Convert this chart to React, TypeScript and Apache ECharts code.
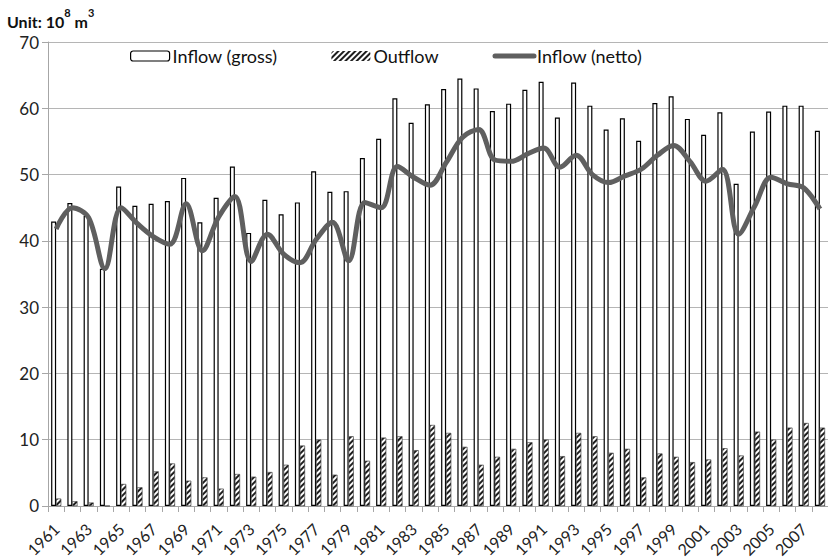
import React, { useEffect, useRef } from "react";
import * as echarts from "echarts";

const years = [
  "1961", "1962", "1963", "1964", "1965", "1966", "1967", "1968", "1969", "1970",
  "1971", "1972", "1973", "1974", "1975", "1976", "1977", "1978", "1979", "1980",
  "1981", "1982", "1983", "1984", "1985", "1986", "1987", "1988", "1989", "1990",
  "1991", "1992", "1993", "1994", "1995", "1996", "1997", "1998", "1999", "2000",
  "2001", "2002", "2003", "2004", "2005", "2006", "2007", "2008",
];

const inflowGross = [
  42.9, 45.7, 43.8, 35.8, 48.2, 45.3, 45.6, 46.0, 49.5, 42.8,
  46.5, 51.2, 41.2, 46.2, 44.0, 45.8, 50.5, 47.4, 47.5, 52.5,
  55.4, 61.5, 57.8, 60.6, 62.9, 64.5, 63.0, 59.6, 60.7, 62.8,
  64.0, 58.6, 63.9, 60.4, 56.8, 58.5, 55.1, 60.8, 61.8, 58.4,
  56.0, 59.4, 48.6, 56.5, 59.5, 60.4, 60.4, 56.6,
];

const outflow = [
  1.1, 0.7, 0.5, 0, 3.3, 2.8, 5.2, 6.4, 3.8, 4.3,
  2.6, 4.8, 4.4, 5.1, 6.2, 9.1, 10.0, 4.7, 10.5, 6.8,
  10.3, 10.5, 8.4, 12.2, 11.0, 8.9, 6.2, 7.4, 8.6, 9.6,
  10.0, 7.5, 11.0, 10.5, 8.0, 8.6, 4.3, 7.9, 7.4, 6.6,
  7.0, 8.7, 7.6, 11.2, 10.0, 11.8, 12.5, 11.8,
];

const inflowNetto = [
  41.8, 45.0, 43.5, 35.8, 45.0, 42.6, 40.6, 39.5, 45.6, 38.5,
  43.6, 46.7, 36.9, 41.0, 38.0, 36.7, 40.2, 42.8, 37.0, 45.8,
  45.0, 51.2, 49.6, 48.4, 51.8, 55.6, 56.8, 52.2, 52.0, 53.1,
  54.0, 51.1, 52.9, 50.0, 48.8, 49.8, 50.8, 52.9, 54.4, 52.0,
  49.0, 50.8, 41.0, 45.3, 49.6, 48.6, 48.0, 44.8,
];

const FONT = "Lato, 'Noto Sans', sans-serif";

export default function App() {
  const ref = useRef<HTMLDivElement>(null);

  useEffect(() => {
    document.body.style.margin = "0";
    if (!ref.current) return;
    const chart = echarts.init(ref.current, undefined, { renderer: "svg" });
    const hatch = {
      symbol: "rect",
      symbolSize: 1,
      symbolKeepAspect: false,
      color: "#1e1e1e",
      backgroundColor: "#ffffff",
      dashArrayX: [1, 0],
      dashArrayY: [1.1, 1.1],
      rotation: -Math.PI / 4,
    };
    chart.setOption({
      animation: false,
      backgroundColor: "#ffffff",
      textStyle: { fontFamily: FONT },
      title: {
        left: 7,
        top: 7,
        padding: 0,
        text: "{b|Unit: 10}{s|8}{b| m}{s|3}",
        textStyle: {
          rich: {
            b: { fontFamily: FONT, fontWeight: "bold", fontSize: 16, color: "#111", lineHeight: 22, verticalAlign: "bottom" },
            s: { fontFamily: FONT, fontWeight: "bold", fontSize: 11, color: "#111", lineHeight: 22, verticalAlign: "top" },
          },
        },
      },
      legend: {
        left: 130,
        top: 47,
        padding: 0,
        itemWidth: 39,
        itemHeight: 10,
        itemGap: 54,
        textStyle: { fontFamily: FONT, fontSize: 18, color: "#111", padding: [0, 0, 0, -2] },
        data: [
          { name: "Inflow (gross)", itemStyle: { color: "#fff", borderColor: "#000", borderWidth: 1.2 } },
          { name: "Outflow", itemStyle: { decal: hatch, borderWidth: 0 } },
          {
            name: "Inflow (netto)",
            itemStyle: { opacity: 0 },
            lineStyle: { color: "#5f5f5f", width: 5, cap: "round" },
          },
        ],
      },
      grid: { left: 48, top: 42, width: 787, bottom: 52, containLabel: false },
      xAxis: {
        type: "category",
        data: years,
        boundaryGap: true,
        axisLine: { lineStyle: { color: "#a6a6a6", width: 1 } },
        axisTick: { show: true, interval: 0, length: 6, lineStyle: { color: "#a6a6a6" } },
        axisLabel: {
          interval: 1,
          rotate: 45,
          margin: 20,
          fontFamily: FONT,
          fontSize: 16,
          color: "#222",
        },
      },
      yAxis: {
        type: "value",
        min: 0,
        max: 70,
        interval: 10,
        axisLine: { show: true, lineStyle: { color: "#a6a6a6" } },
        axisTick: { show: true, length: 6, lineStyle: { color: "#a6a6a6" } },
        axisLabel: { fontFamily: FONT, fontSize: 17, color: "#222", margin: 9 },
        splitLine: { lineStyle: { color: "#b5b5b5", width: 1 } },
      },
      series: [
        {
          name: "Inflow (gross)",
          type: "bar",
          data: inflowGross,
          barWidth: 5,
          barGap: "0%",
          itemStyle: { color: "#ffffff", borderColor: "#000000", borderWidth: 1.2 },
          z: 2,
        },
        {
          name: "Outflow",
          type: "bar",
          data: outflow,
          barWidth: 5,
          barGap: "0%",
          itemStyle: { color: "#ffffff", decal: hatch, borderColor: "#444", borderWidth: 0.4 },
          z: 2,
        },
        {
          name: "Inflow (netto)",
          type: "line",
          data: inflowNetto,
          smooth: 0.35,
          symbol: "none",
          showSymbol: false,
          lineStyle: { color: "#5f5f5f", width: 5 },
          itemStyle: { color: "#5f5f5f" },
          z: 5,
        },
      ],
    });
    return () => chart.dispose();
  }, []);

  return (
    <div
      ref={ref}
      style={{ position: "absolute", left: 0, top: 0, width: 828, height: 560, overflow: "hidden" }}
    />
  );
}
